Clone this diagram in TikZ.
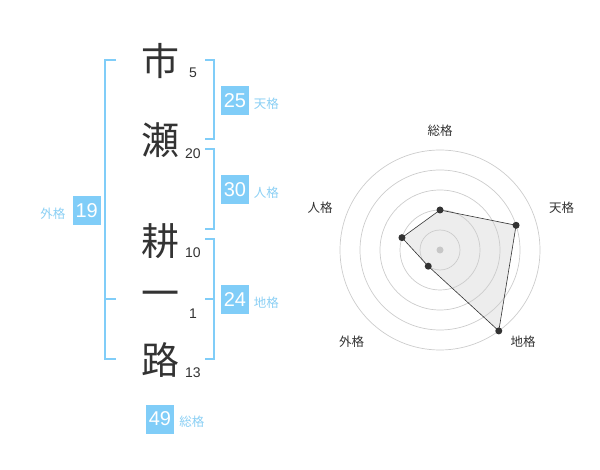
\documentclass[tikz,border=0pt]{standalone}
\usepackage{fontspec}
\setmainfont{Liberation Sans}
\newfontfamily\jp{Noto Sans CJK JP}
\usetikzlibrary{positioning,calc}
\definecolor{skyb}{HTML}{80CDF8}
\definecolor{skyt}{HTML}{8ACFF4}
\definecolor{ink}{HTML}{333333}
\tikzset{kanji/.style={font=\jp\fontsize{38}{38}\selectfont, text=ink, inner sep=0pt}}
\tikzset{strk/.style={font=\fontsize{14}{14}\selectfont, text=ink, inner sep=0pt}}
\tikzset{kbox/.style={fill=skyb, text=white, font=\fontsize{20}{20}\selectfont, minimum width=28pt, minimum height=29pt, inner sep=0pt}}
\tikzset{klab/.style={font=\jp\fontsize{12.5}{12.5}\selectfont, text=skyt, inner sep=0pt}}
\tikzset{brk/.style={draw=skyb, line width=2pt}}
\tikzset{ring/.style={draw=black!20, line width=0.7pt}}
\tikzset{rlab/.style={font=\jp\fontsize{12.5}{12.5}\selectfont, text=ink, inner sep=0pt}}
\tikzset{rdot/.style={circle, fill=ink, inner sep=0pt, minimum size=7pt}}

\begin{document}
\begin{tikzpicture}[x=1pt,y=-1pt]
	\useasboundingbox (0,0) rectangle (600,470);
	% name and stroke counts
	\node[kanji] (k1) at (160,61) {市};
	\node[kanji] (k2) at (160,140.5) {瀬};
	\node[kanji] (k3) at (160,241) {耕};
	\node[kanji] (k4) at (160,299.5) {一};
	\node[kanji] (k5) at (160,360) {路};
	\node[strk] (s1) at (193,72.7) {5};
	\node[strk] (s2) at (193,153.3) {20};
	\node[strk] (s3) at (193,252.8) {10};
	\node[strk] (s4) at (193,313.3) {1};
	\node[strk] (s5) at (193,372.7) {13};
	% brackets
	\draw[brk] (116,60) -- (105,60) -- (105,359) -- (116,359);
	\draw[brk] (105,299) -- (116,299);
	\draw[brk] (205,60) -- (214,60) -- (214,139) -- (205,139);
	\draw[brk] (205,149) -- (214,149) -- (214,229) -- (205,229);
	\draw[brk] (205,239) -- (214,239) -- (214,359) -- (205,359);
	\draw[brk] (205,299) -- (214,299);
	% scores
	\node[kbox] (ten) at (235,100.5) {25};
	\node[klab, right=4.5pt of ten, yshift=-3pt] (tenl) {天格};
	\node[kbox] (jin) at (235,190) {30};
	\node[klab, right=4.5pt of jin, yshift=-3pt] (jinl) {人格};
	\node[kbox] (chi) at (235,300) {24};
	\node[klab, right=4.5pt of chi, yshift=-3pt] (chil) {地格};
	\node[kbox] (gai) at (86.7,210.3) {19};
	\node[klab, left=7pt of gai, yshift=-3pt] (gail) {外格};
	\node[kbox] (sou) at (160,419) {49};
	\node[klab, right=5pt of sou, yshift=-3pt] (soul) {総格};
	% radar
	\begin{scope}[shift={(440,250)}, y=1pt]
		\coordinate (v1) at (90:40);
		\coordinate (v2) at (18:80);
		\coordinate (v3) at (-54:100);
		\coordinate (v4) at (-126:20);
		\coordinate (v5) at (162:40);
		\fill[black!7] (v1) -- (v2) -- (v3) -- (v4) -- (v5) -- cycle;
		\foreach \r in {20,40,...,100}
			\draw[ring] (0,0) circle (\r pt);
		\node[circle, fill=black!22, inner sep=0pt, minimum size=7pt] (c0) at (0,0) {};
		\draw[ink, line width=0.6pt] (v1) -- (v2) -- (v3) -- (v4) -- (v5) -- cycle;
		\foreach \i in {1,...,5}
			\node[rdot] (d\i) at (v\i) {};
		\node[rlab] (l1) at (0,119) {総格};
		\node[rlab] (l2) at (121.7,42) {天格};
		\node[rlab] (l3) at (83,-92) {地格};
		\node[rlab] (l4) at (-88.3,-92) {外格};
		\node[rlab] (l5) at (-120,42) {人格};
	\end{scope}
\end{tikzpicture}
\end{document}
